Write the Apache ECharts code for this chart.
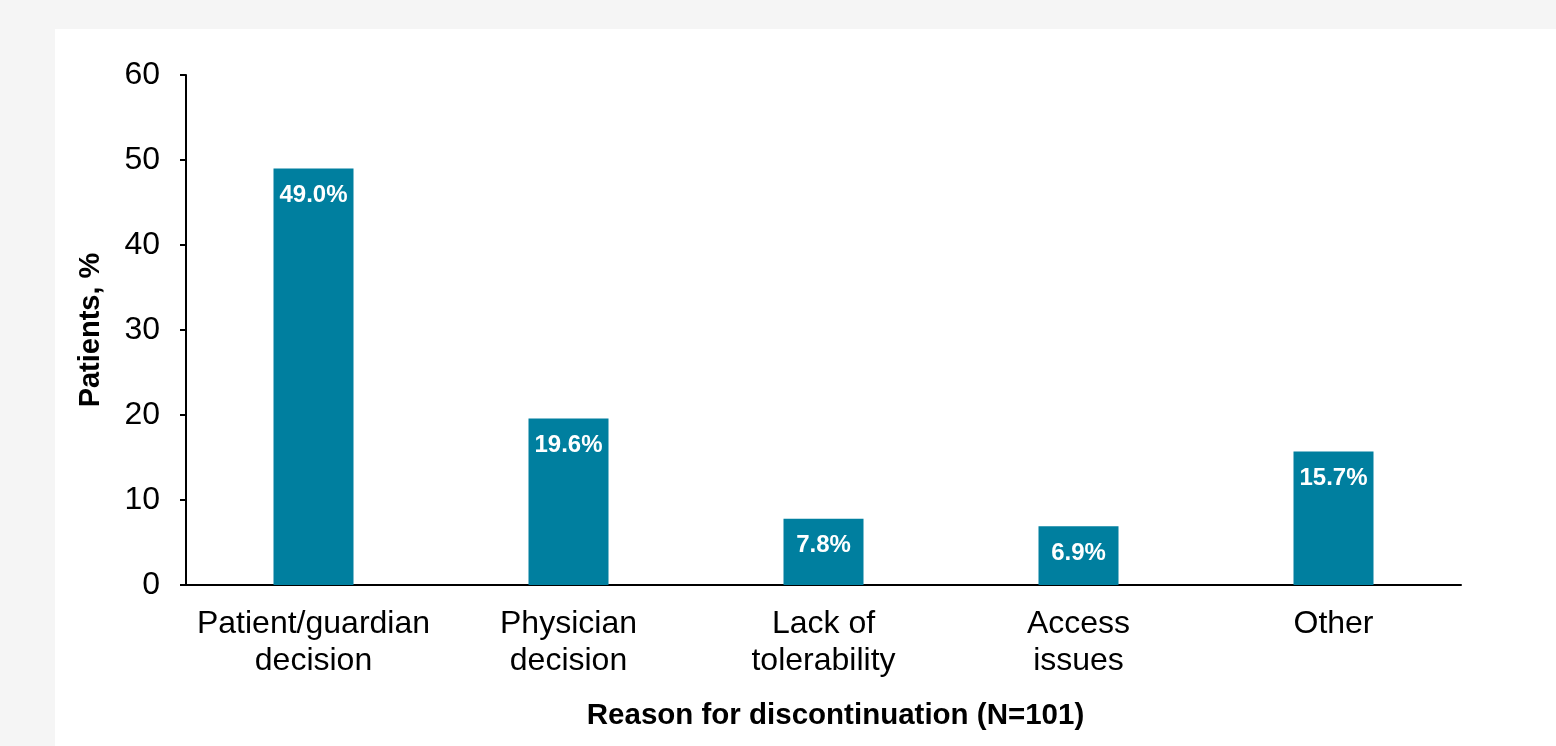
<!DOCTYPE html>
<html>
<head>
<meta charset="utf-8">
<script src="https://cdn.jsdelivr.net/npm/echarts@6/dist/echarts.min.js"></script>
<style>
    html, body { margin: 0; padding: 0; background: #f5f5f5; }
    #panel { position: absolute; left: 55px; top: 29px; width: 1501px; height: 717px; background: #ffffff; }
    #graph { position: absolute; left: 0; top: 0; width: 1556px; height: 746px; }
</style>
</head>
<body>
<div id="panel"></div>
<div id="graph"></div>
<script>
let reasons = ["Patient/guardian\ndecision", "Physician\ndecision", "Lack of\ntolerability", "Access\nissues", "Other"];
let patientPct = [49.0, 19.6, 7.8, 6.9, 15.7];
let yTicks = [0, 10, 20, 30, 40, 50, 60];

let barColor = "#007f9f";
let fontName = "Liberation Sans, Arial, sans-serif";

// 基于准备好的dom，初始化echarts实例
let myChart = echarts.init(document.getElementById('graph'));
let option = {
    backgroundColor: "transparent",
    animation: false,
    textStyle: { fontFamily: fontName },
    grid: { left: 186, right: 95, top: 75, bottom: 161 },
    xAxis: {
        type: "category",
        data: reasons,
        name: "Reason for discontinuation (N=101)",
        nameLocation: "middle",
        nameGap: 116,
        nameTextStyle: { fontSize: 29.5, fontWeight: "bold", color: "#000", fontFamily: fontName, padding: [0, 0, 0, 24] },
        axisLine: { lineStyle: { color: "#000", width: 2 } },
        axisTick: { show: false },
        axisLabel: { fontSize: 32, lineHeight: 37, margin: 21, color: "#000", fontFamily: fontName, interval: 0 },
        splitLine: { show: false }
    },
    yAxis: {
        type: "value",
        min: yTicks[0],
        max: yTicks[yTicks.length - 1],
        interval: 10,
        name: "Patients, %",
        nameLocation: "middle",
        nameRotate: 90,
        nameGap: 81,
        nameTextStyle: { fontSize: 29, fontWeight: "bold", color: "#000", fontFamily: fontName },
        axisLine: { show: true, lineStyle: { color: "#000", width: 2 } },
        axisTick: { show: true, length: 6, lineStyle: { color: "#000", width: 2 } },
        axisLabel: { fontSize: 32, margin: 26, color: "#000", fontFamily: fontName },
        splitLine: { show: false }
    },
    series: [{
        type: "bar",
        data: patientPct,
        barWidth: 80,
        itemStyle: { color: barColor },
        label: {
            show: true,
            position: "insideTop",
            distance: 15,
            color: "#fff",
            fontSize: 24,
            fontWeight: "bold",
            fontFamily: fontName,
            formatter: function (p) { return p.value.toFixed(1) + "%"; }
        }
    }]
};
myChart.setOption(option);
</script>
</body>
</html>
